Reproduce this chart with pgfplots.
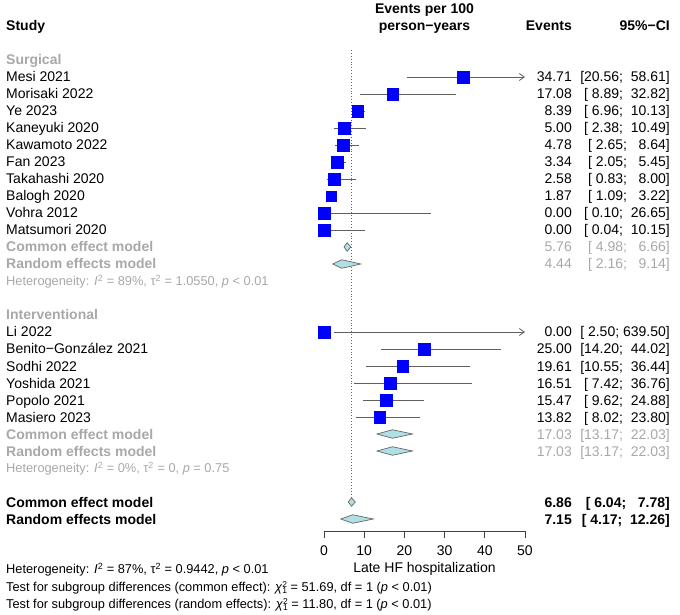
\documentclass[border=0pt]{standalone}
\usepackage{fontspec}
\setmainfont{Liberation Sans}
\usepackage{pgfplots}
\pgfplotsset{compat=1.18}
\usetikzlibrary{arrows.meta}
\definecolor{sqblue}{RGB}{0,0,255}
\definecolor{dia}{RGB}{176,224,230}
\definecolor{grytxt}{RGB}{168,168,168}
\definecolor{cil}{RGB}{95,95,95}
\newcommand\fm{\fontsize{14}{16}\selectfont}
\newcommand\fh{\fontsize{12.8}{15}\selectfont}
\newcommand\chisq{\textit{χ}\makebox[0pt][l]{\raisebox{0.55ex}{\fontsize{8.5}{9}\selectfont 2}}\raisebox{-0.25ex}{\fontsize{8.5}{9}\selectfont 1}}
\tikzset{
 L/.style={anchor=base west, inner sep=0pt, yshift=-5pt, font=\fm},
 R/.style={anchor=base east, inner sep=0pt, yshift=-5pt, font=\fm},
 C/.style={anchor=base, inner sep=0pt, yshift=-5pt, font=\fm},
 H/.style={anchor=base west, inner sep=0pt, yshift=-4.6pt, font=\fh},
}
\begin{document}
\begin{tikzpicture}
\begin{axis}[
 scale only axis, width=201pt, height=531pt,
 xmin=0, xmax=50, ymin=-27.706, ymax=3.529,
 axis x line*=bottom, axis y line=none,
 xtick={0,10,20,30,40,50}, tick align=outside, major tick length=7pt,
 x axis line style={black!75, line width=0.8pt},
 xtick style={black!75, line width=0.8pt},
 xticklabel style={font=\fm, inner sep=0pt, yshift=-8pt},
 /pgf/number format/assume math mode=true,
 clip=false,
]
% reference (common effect) line
\addplot[black!60, dotted, line width=0.9pt] coordinates {(6.86,0.59) (6.86,-25.7)};

% study squares
\addplot[only marks, mark=square*, mark size=5.85pt, mark options={fill=sqblue, draw=sqblue}] coordinates {
 (34.71,-1) (17.08,-2) (8.39,-3) (5.00,-4) (4.78,-5) (3.34,-6) (2.58,-7) (0.00,-9) (0.00,-10)
 (0.00,-16) (25.00,-17) (19.61,-18) (16.51,-19) (15.47,-20) (13.82,-21)};
\addplot[only marks, mark=square*, mark size=4.9pt, mark options={fill=sqblue, draw=sqblue}] coordinates {(1.87,-8)};

% confidence intervals
\addplot[cil, line width=0.8pt, -{Straight Barb[length=5pt,width=7pt]}] coordinates {(20.56,-1) (50,-1)};
\addplot[cil, line width=0.8pt] coordinates {(8.89,-2) (32.82,-2)};
\addplot[cil, line width=0.8pt] coordinates {(6.96,-3) (10.13,-3)};
\addplot[cil, line width=0.8pt] coordinates {(2.38,-4) (10.49,-4)};
\addplot[cil, line width=0.8pt] coordinates {(2.65,-5) (8.64,-5)};
\addplot[cil, line width=0.8pt] coordinates {(2.05,-6) (5.45,-6)};
\addplot[cil, line width=0.8pt] coordinates {(0.83,-7) (8.00,-7)};
\addplot[white, line width=0.8pt] coordinates {(1.09,-8) (3.22,-8)};
\addplot[cil, line width=0.8pt] coordinates {(0.10,-9) (26.65,-9)};
\addplot[cil, line width=0.8pt] coordinates {(0.04,-10) (10.15,-10)};
\addplot[cil, line width=0.8pt, -{Straight Barb[length=5pt,width=7pt]}] coordinates {(2.50,-16) (50,-16)};
\addplot[cil, line width=0.8pt] coordinates {(14.20,-17) (44.02,-17)};
\addplot[cil, line width=0.8pt] coordinates {(10.55,-18) (36.44,-18)};
\addplot[cil, line width=0.8pt] coordinates {(7.42,-19) (36.76,-19)};
\addplot[cil, line width=0.8pt] coordinates {(9.62,-20) (24.88,-20)};
\addplot[cil, line width=0.8pt] coordinates {(8.02,-21) (23.80,-21)};

% diamonds
\addplot[fill=dia, draw=black!60, line width=0.7pt] coordinates {(4.98,-11) (5.76,-10.75) (6.66,-11) (5.76,-11.25)} -- cycle;
\addplot[fill=dia, draw=black!60, line width=0.7pt] coordinates {(2.16,-12) (4.44,-11.75) (9.14,-12) (4.44,-12.25)} -- cycle;
\addplot[fill=dia, draw=black!60, line width=0.7pt] coordinates {(13.17,-22) (17.03,-21.75) (22.03,-22) (17.03,-22.25)} -- cycle;
\addplot[fill=dia, draw=black!60, line width=0.7pt] coordinates {(13.17,-23) (17.03,-22.75) (22.03,-23) (17.03,-23.25)} -- cycle;
\addplot[fill=dia, draw=black!60, line width=0.7pt] coordinates {(6.04,-26) (6.86,-25.75) (7.78,-26) (6.86,-26.25)} -- cycle;
\addplot[fill=dia, draw=black!60, line width=0.7pt] coordinates {(4.17,-27) (7.15,-26.75) (12.26,-27) (7.15,-27.25)} -- cycle;

% headers
\node[L, font=\fm\bfseries] at (axis cs:-79.1,2) {Study};
\node[C, font=\fm\bfseries] at (axis cs:25,3.05) {Events per 100};
\node[C, font=\fm\bfseries] at (axis cs:25,2.05) {person−years};
\node[R, font=\fm\bfseries] at (axis cs:61.69,2) {Events};
\node[R, font=\fm\bfseries] at (axis cs:86.07,2) {95\%−CI};

% Surgical
\node[L, font=\fm\bfseries, text=grytxt] at (axis cs:-79.1,0) {Surgical};
\node[L] at (axis cs:-79.1,-1) {Mesi 2021};
\node[L] at (axis cs:-79.1,-2) {Morisaki 2022};
\node[L] at (axis cs:-79.1,-3) {Ye 2023};
\node[L] at (axis cs:-79.1,-4) {Kaneyuki 2020};
\node[L] at (axis cs:-79.1,-5) {Kawamoto 2022};
\node[L] at (axis cs:-79.1,-6) {Fan 2023};
\node[L] at (axis cs:-79.1,-7) {Takahashi 2020};
\node[L] at (axis cs:-79.1,-8) {Balogh 2020};
\node[L] at (axis cs:-79.1,-9) {Vohra 2012};
\node[L] at (axis cs:-79.1,-10) {Matsumori 2020};
\node[L, font=\fm\bfseries, text=grytxt] at (axis cs:-79.1,-11) {Common effect model};
\node[L, font=\fm\bfseries, text=grytxt] at (axis cs:-79.1,-12) {Random effects model};
\node[H, text=grytxt] at (axis cs:-79.1,-13) {Heterogeneity: \textit{I}\textsuperscript{2} = 89\%, τ\textsuperscript{2} = 1.0550, \textit{p} < 0.01};

\node[R] at (axis cs:61.69,-1) {34.71};
\node[R] at (axis cs:61.69,-2) {17.08};
\node[R] at (axis cs:61.69,-3) {8.39};
\node[R] at (axis cs:61.69,-4) {5.00};
\node[R] at (axis cs:61.69,-5) {4.78};
\node[R] at (axis cs:61.69,-6) {3.34};
\node[R] at (axis cs:61.69,-7) {2.58};
\node[R] at (axis cs:61.69,-8) {1.87};
\node[R] at (axis cs:61.69,-9) {0.00};
\node[R] at (axis cs:61.69,-10) {0.00};
\node[R, text=grytxt] at (axis cs:61.69,-11) {5.76};
\node[R, text=grytxt] at (axis cs:61.69,-12) {4.44};

\node[R] at (axis cs:86.07,-1) {[20.56;\ \ 58.61]};
\node[R] at (axis cs:86.07,-2) {[\ 8.89;\ \ 32.82]};
\node[R] at (axis cs:86.07,-3) {[\ 6.96;\ \ 10.13]};
\node[R] at (axis cs:86.07,-4) {[\ 2.38;\ \ 10.49]};
\node[R] at (axis cs:86.07,-5) {[\ 2.65;\ \ \ 8.64]};
\node[R] at (axis cs:86.07,-6) {[\ 2.05;\ \ \ 5.45]};
\node[R] at (axis cs:86.07,-7) {[\ 0.83;\ \ \ 8.00]};
\node[R] at (axis cs:86.07,-8) {[\ 1.09;\ \ \ 3.22]};
\node[R] at (axis cs:86.07,-9) {[\ 0.10;\ \ 26.65]};
\node[R] at (axis cs:86.07,-10) {[\ 0.04;\ \ 10.15]};
\node[R, text=grytxt] at (axis cs:86.07,-11) {[\ 4.98;\ \ \ 6.66]};
\node[R, text=grytxt] at (axis cs:86.07,-12) {[\ 2.16;\ \ \ 9.14]};

% Interventional
\node[L, font=\fm\bfseries, text=grytxt] at (axis cs:-79.1,-15) {Interventional};
\node[L] at (axis cs:-79.1,-16) {Li 2022};
\node[L] at (axis cs:-79.1,-17) {Benito−González 2021};
\node[L] at (axis cs:-79.1,-18) {Sodhi 2022};
\node[L] at (axis cs:-79.1,-19) {Yoshida 2021};
\node[L] at (axis cs:-79.1,-20) {Popolo 2021};
\node[L] at (axis cs:-79.1,-21) {Masiero 2023};
\node[L, font=\fm\bfseries, text=grytxt] at (axis cs:-79.1,-22) {Common effect model};
\node[L, font=\fm\bfseries, text=grytxt] at (axis cs:-79.1,-23) {Random effects model};
\node[H, text=grytxt] at (axis cs:-79.1,-24) {Heterogeneity: \textit{I}\textsuperscript{2} = 0\%, τ\textsuperscript{2} = 0, \textit{p} = 0.75};

\node[R] at (axis cs:61.69,-16) {0.00};
\node[R] at (axis cs:61.69,-17) {25.00};
\node[R] at (axis cs:61.69,-18) {19.61};
\node[R] at (axis cs:61.69,-19) {16.51};
\node[R] at (axis cs:61.69,-20) {15.47};
\node[R] at (axis cs:61.69,-21) {13.82};
\node[R, text=grytxt] at (axis cs:61.69,-22) {17.03};
\node[R, text=grytxt] at (axis cs:61.69,-23) {17.03};

\node[R] at (axis cs:86.07,-16) {[\ 2.50; 639.50]};
\node[R] at (axis cs:86.07,-17) {[14.20;\ \ 44.02]};
\node[R] at (axis cs:86.07,-18) {[10.55;\ \ 36.44]};
\node[R] at (axis cs:86.07,-19) {[\ 7.42;\ \ 36.76]};
\node[R] at (axis cs:86.07,-20) {[\ 9.62;\ \ 24.88]};
\node[R] at (axis cs:86.07,-21) {[\ 8.02;\ \ 23.80]};
\node[R, text=grytxt] at (axis cs:86.07,-22) {[13.17;\ \ 22.03]};
\node[R, text=grytxt] at (axis cs:86.07,-23) {[13.17;\ \ 22.03]};

% Overall
\node[L, font=\fm\bfseries] at (axis cs:-79.1,-26) {Common effect model};
\node[L, font=\fm\bfseries] at (axis cs:-79.1,-27) {Random effects model};
\node[R, font=\fm\bfseries] at (axis cs:61.69,-26) {6.86};
\node[R, font=\fm\bfseries] at (axis cs:61.69,-27) {7.15};
\node[R, font=\fm\bfseries] at (axis cs:86.07,-26) {[\ 6.04;\ \ \ 7.78]};
\node[R, font=\fm\bfseries] at (axis cs:86.07,-27) {[\ 4.17;\ \ 12.26]};

% x label and footers
\node[C] at (axis cs:25,-29.85) {Late HF hospitalization};
\node[H] at (axis cs:-79.1,-29.95) {Heterogeneity: \textit{I}\textsuperscript{2} = 87\%, τ\textsuperscript{2} = 0.9442, \textit{p} < 0.01};
\node[H] at (axis cs:-79.1,-31.0) {Test for subgroup differences (common effect): \chisq\ = 51.69, df = 1 (\textit{p} < 0.01)};
\node[H] at (axis cs:-79.1,-32.0) {Test for subgroup differences (random effects): \chisq\ = 11.80, df = 1 (\textit{p} < 0.01)};

\coordinate (bl) at (axis cs:-80.597,-32.588);
\coordinate (tr) at (axis cs:88.557,3.529);
\end{axis}
\pgfresetboundingbox
\path (bl) rectangle (tr);
\end{tikzpicture}
\end{document}
